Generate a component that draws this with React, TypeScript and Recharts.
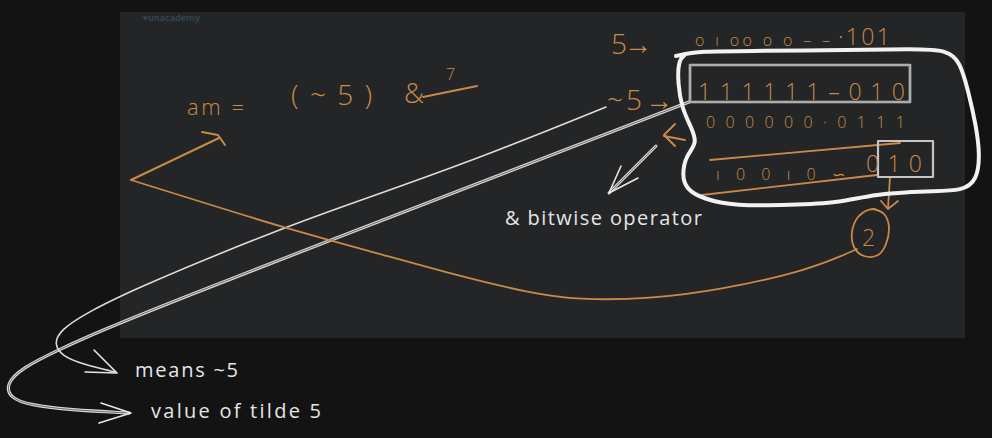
import React from "react";
import {
  ComposedChart,
  Line,
  Scatter,
  XAxis,
  YAxis,
  ReferenceArea,
} from "recharts";

type Pt = { x: number; y: number };
type Lbl = { x: number; y: number; x2: number; text: string };

const toPts = (a: number[][]): Pt[] => a.map(([x, y]) => ({ x, y }));

// white strokes
const blob = toPts([
  [676, 56], [698, 51], [760, 51], [850, 50], [913, 49], [948, 50], [960, 62],
  [968, 90], [976, 125], [980, 155], [977, 180], [963, 191], [930, 191],
  [873, 194], [840, 203], [790, 205], [735, 206], [703, 199], [686, 189],
  [682, 175], [686, 155], [698, 143], [690, 125], [682, 108], [678, 85],
  [678, 60], [686, 54],
]);
const bigBox = toPts([[690, 65], [910, 65], [910, 102], [690, 102], [690, 65]]);
const smallBox = toPts([[878, 141], [933, 141], [933, 177], [878, 177], [878, 141]]);
const lineMeans = toPts([
  [606, 107], [480, 158], [353, 203], [285, 227], [138, 287], [88, 312],
  [60, 330], [54, 344], [62, 356], [82, 364], [115, 372],
]);
const headMeans = toPts([[94, 350], [117, 373], [85, 372]]);
const lineValue = toPts([
  [689, 102], [510, 171], [331, 240], [184, 297], [100, 331], [58, 350],
  [22, 368], [6, 384], [10, 398], [30, 405], [70, 410], [129, 413],
]);
const headValue = toPts([[101, 403], [131, 413], [99, 423]]);
const opShaft = toPts([[656, 146], [609, 193]]);
const opHead = toPts([[621, 166], [609, 193], [638, 178]]);

// orange strokes
const amArrow = toPts([[131, 180], [219, 138]]);
const amHead = toPts([[202, 132], [218, 135], [225, 145]]);
const bigCurve = toPts([
  [131, 180], [208, 204], [285, 228], [380, 254], [459, 276], [530, 293],
  [578, 300], [650, 299], [720, 290], [810, 270], [857, 249],
]);
const strikeTop = toPts([[710, 160], [900, 143]]);
const strikeBottom = toPts([[702, 195], [877, 175]]);
const downShaft = toPts([[890, 177], [888, 208]]);
const downHead = toPts([[881, 201], [888, 209], [898, 201]]);
const circle2 = toPts([
  [873, 209], [884, 214], [889, 228], [886, 244], [878, 255], [864, 256],
  [854, 247], [852, 232], [858, 217], [868, 210], [875, 209],
]);
const backHead = toPts([[675, 124], [664, 135], [675, 146]]);
const backShaft = toPts([[664, 136], [685, 140]]);
const underline7 = toPts([[423, 97], [477, 86]]);

// texts
const orangeHuge: Lbl[] = [
  { x: 611, y: 54, x2: 652, text: "5→" },
  { x: 607, y: 110, x2: 673, text: "~5→" },
  { x: 291, y: 105, x2: 372, text: "(~5)" },
  { x: 404, y: 103, x2: 424, text: "&" },
];
const orangeBig: Lbl[] = [
  { x: 862, y: 246, x2: 878, text: "2" },
  { x: 838, y: 45, x2: 890, text: "·101" },
  { x: 698, y: 100, x2: 905, text: "1 1 1 1 1 1 – 0 1 0" },
  { x: 866, y: 172, x2: 922, text: "0 1 0" },
];
const orangeSmall: Lbl[] = [
  { x: 695, y: 46, x2: 830, text: "o ı oo o o – –" },
  { x: 706, y: 128, x2: 905, text: "0 0 0 0 0 0 · 0 1 1 1" },
  { x: 716, y: 180, x2: 845, text: "ı 0 0 ı 0 ∽" },
  { x: 446, y: 80, x2: 460, text: "7" },
];
const orangeMid: Lbl[] = [{ x: 187, y: 115, x2: 244, text: "am =" }];
const whiteText: Lbl[] = [
  { x: 505, y: 225, x2: 702, text: "& bitwise operator" },
  { x: 135, y: 377, x2: 238, text: "means ~5" },
  { x: 151, y: 418, x2: 321, text: "value of tilde 5" },
];
const watermark: Lbl[] = [{ x: 143, y: 21, x2: 200, text: "▾unacademy" }];

const W = 992;
const H = 438;
const ORANGE = "#c98a46";
const WHITE = "#e6e6e6";
const FONT = "'Open Sans', 'Noto Sans', sans-serif";

const textShape = (color: string, size: number, weight = 400) => (p: any) => {
  const d = p.payload as Lbl;
  return (
    <text
      x={p.cx}
      y={p.cy}
      fill={color}
      fontSize={size}
      fontFamily={FONT}
      fontWeight={weight}
      textLength={d.x2 - d.x}
      lengthAdjust="spacing"
    >
      {d.text}
    </text>
  );
};

const stroke = (
  key: string,
  data: Pt[],
  color: string,
  width: number,
  curve: "linear" | "natural" | "basis" = "linear"
) => (
  <Line
    key={key}
    data={data}
    dataKey="y"
    type={curve}
    stroke={color}
    strokeWidth={width}
    strokeLinecap="round"
    strokeLinejoin="round"
    dot={false}
    activeDot={false}
    isAnimationActive={false}
  />
);

export default function App() {
  return (
    <div
      style={{
        position: "fixed",
        left: 0,
        top: 0,
        width: W,
        height: H,
        background: "#131313",
      }}
    >
      <ComposedChart width={W} height={H} margin={{ top: 0, right: 0, bottom: 0, left: 0 }}>
        <XAxis type="number" dataKey="x" domain={[0, W]} hide allowDataOverflow />
        <YAxis type="number" dataKey="y" domain={[0, H]} reversed hide allowDataOverflow />
        <ReferenceArea x1={120} x2={965} y1={12} y2={338} fill="#232526" fillOpacity={1} stroke="none" />

        {stroke("lv1", lineValue, "#d8d8d8", 3.2, "basis")}
        {stroke("lv2", lineValue, "#6a6a6a", 1, "basis")}
        {stroke("hv", headValue, WHITE, 1.6)}
        {stroke("lm", lineMeans, "#dcdcdc", 1.6, "basis")}
        {stroke("hm", headMeans, WHITE, 1.6)}

        {stroke("curve", bigCurve, ORANGE, 1.8, "basis")}
        {stroke("amA", amArrow, ORANGE, 2)}
        {stroke("amH", amHead, ORANGE, 2)}
        {stroke("st", strikeTop, ORANGE, 1.8)}
        {stroke("sb", strikeBottom, ORANGE, 1.8)}
        {stroke("ds", downShaft, ORANGE, 1.8)}
        {stroke("dh", downHead, ORANGE, 1.8)}
        {stroke("c2", circle2, ORANGE, 1.8, "natural")}
        {stroke("bh", backHead, ORANGE, 2)}
        {stroke("bs", backShaft, ORANGE, 2)}
        {stroke("u7", underline7, ORANGE, 2)}

        {stroke("bb1", bigBox, "#cfcfcf", 2.6)}
        {stroke("bb2", bigBox, "#7a7a7a", 0.8)}
        {stroke("sb1", smallBox, "#c4c4c4", 2.2)}
        {stroke("blob", blob, "#f2f2f2", 4, "basis")}
        {stroke("os1", opShaft, "#d8d8d8", 3)}
        {stroke("os2", opShaft, "#6a6a6a", 1)}
        {stroke("oh", opHead, WHITE, 1.6)}

        <Scatter data={watermark} shape={textShape("#2f4650", 9, 700)} isAnimationActive={false} />
        <Scatter data={orangeHuge} shape={textShape(ORANGE, 28, 300)} isAnimationActive={false} />
        <Scatter data={orangeBig} shape={textShape(ORANGE, 23, 300)} isAnimationActive={false} />
        <Scatter data={orangeSmall} shape={textShape(ORANGE, 16, 300)} isAnimationActive={false} />
        <Scatter data={orangeMid} shape={textShape(ORANGE, 22, 300)} isAnimationActive={false} />
        <Scatter data={whiteText} shape={textShape(WHITE, 20)} isAnimationActive={false} />
      </ComposedChart>
    </div>
  );
}
